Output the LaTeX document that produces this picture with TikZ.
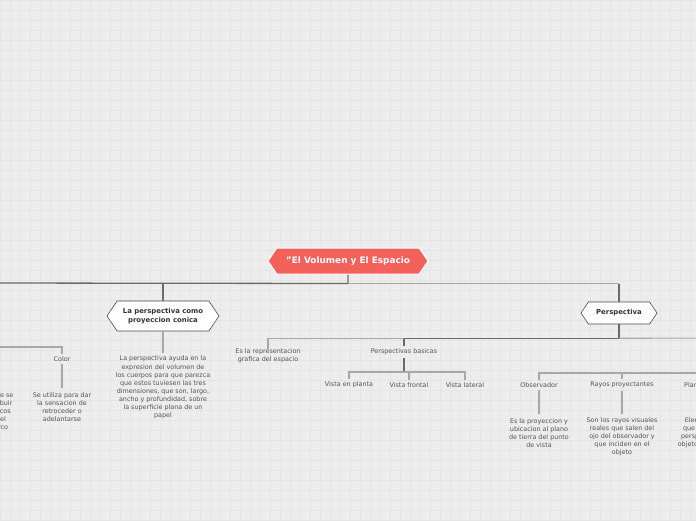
\documentclass[tikz,border=0pt]{standalone}
\usepackage{fontspec}
\setmainfont{DejaVu Sans}
\usetikzlibrary{shapes.symbols, positioning, calc}
\definecolor{fundo}{HTML}{EDEDED}
\definecolor{grade}{HTML}{E5E5E5}
\definecolor{raiz}{HTML}{F2615A}
\definecolor{linhaesc}{HTML}{6A6A6A}
\definecolor{linhaclr}{HTML}{A8A8A8}
\definecolor{texto}{HTML}{555555}

\begin{document}
\begin{tikzpicture}[
    x=1pt, y=-1pt,
    every node/.style={font=\fontsize{6.4}{8.1}\selectfont, text=texto},
    topico/.style={
        signal,
        signal to=west and east,
        signal pointer angle=112,
        draw=black!70,
        fill=white,
        line width=0.6pt,
        align=center,
        text=black!80,
        font=\fontsize{6.9}{8.4}\selectfont\bfseries
    },
    rotulo/.style={
        inner sep=2.5pt,
        align=center
    },
    descricao/.style={
        inner sep=0pt,
        align=center
    },
    escura/.style={
        draw=linhaesc,
        line width=1.3pt
    },
    clara/.style={
        draw=linhaclr,
        line width=1.1pt
    }
]

% ============================================================
% FUNDO
% ============================================================

\useasboundingbox (0,0) rectangle (696,520);
\clip (0,0) rectangle (696,520);
\fill[fundo] (0,0) rectangle (696,520);
\draw[grade, line width=0.4pt, step=10pt] (-2,-2) grid (700,522);

% ============================================================
% TÓPICO CENTRAL
% ============================================================

\node[
    topico,
    draw=white,
    fill=raiz,
    line width=1pt,
    text=white,
    font=\fontsize{8.9}{10}\selectfont\bfseries,
    minimum width=160pt,
    minimum height=26pt
] (raiz) at (348,261)
{"El Volumen y El Espacio};

% ============================================================
% SUBTÓPICOS
% ============================================================

\node[
    topico,
    minimum width=112pt,
    minimum height=30pt
] (conica) at (163,316)
{La perspectiva como\\proyeccion conica};

\node[
    topico,
    minimum width=76pt,
    minimum height=22pt
] (persp) at (619,313)
{Perspectiva};

% ============================================================
% RAMO ESQUERDO
% ============================================================

\node[rotulo] (cor) at (62,359) {Color};

\node[descricao] (cordesc) at (62,407)
{Se utiliza para dar\\la sensacion de\\retroceder o\\adelantarse};

\node[descricao] (esqdesc) at (-2,411)
{Lo que se\\distribuir\\graficos\\en el\\marco};

\node[descricao] (conicadesc) at (163,387.5)
{La perspectiva ayuda en la\\
expresion del volumen de\\
los cuerpos para que parezca\\
que estos tuviesen las tres\\
dimensiones, que son, largo,\\
ancho y profundidad, sobre\\
la superficie plana de un\\
papel};

% ============================================================
% RAMO DIREITO
% ============================================================

\node[descricao] (repr) at (268,356)
{Es la representacion\\grafica del espacio};

\node[rotulo] (basicas) at (404,352) {Perspectivas basicas};

\node[rotulo] (planta) at (349,385) {Vista en planta};
\node[rotulo] (frontal) at (409,385) {Vista frontal};
\node[rotulo] (lateral) at (465,385) {Vista lateral};

\node[rotulo] (observ) at (539,385) {Observador};
\node[rotulo] (rayos) at (622,385) {Rayos proyectantes};
\node[rotulo, anchor=west, inner xsep=0pt] (plano) at (684,385) {Plano de tierra};

\node[descricao] (observdesc) at (539,433)
{Es la proyeccion y\\ubicacion al plano\\de tierra del punto\\de vista};

\node[descricao] (rayosdesc) at (622,437)
{Son los rayos visuales\\reales que salen del\\ojo del observador y\\que inciden en el\\objeto};

\node[descricao] (planodesc) at (710,433)
{Elemento plano\\que sirve para la\\perspectiva de un\\objeto en el espacio};

% ============================================================
% CONEXÕES
% ============================================================

\coordinate (busraiz) at ([yshift=-9pt]raiz.south);
\coordinate (foraesq) at (-10,283);
\coordinate (foracor) at (-10,347);
\coordinate (busper) at ([yshift=-14pt]persp.south);
\coordinate (foradir) at (710,338);
\coordinate (busbas) at (404,372);
\coordinate (buselem) at (710,373);

% Tópico central
\draw[escura] (raiz.south) -- (busraiz) -- (foraesq);
\draw[escura] (busraiz) -| (conica.north);
\draw[clara] (busraiz) -- (persp.north |- busraiz);
\draw[escura] (persp.north |- busraiz) -- (persp.north);

% Ramo esquerdo
\draw[clara] (foracor) -| (cor.north);
\draw[clara, shorten >=4pt] (cor.south) -- (cordesc.north);
\draw[clara, shorten >=3pt] (conica.south) -- (conicadesc.north);

% Perspectiva
\draw[escura] (persp.south) -- (busper) -| (basicas.north);
\draw[clara] (basicas.north |- busper) -| (repr.north);
\draw[clara] (busper) -- (foradir);

% Perspectivas basicas
\draw[escura] (basicas.south) -- (busbas);
\draw[clara] (busbas) -| (planta.north);
\draw[clara] (busbas) -| (lateral.north);
\draw[clara] (frontal.north |- busbas) -- (frontal.north);

% Elementos
\draw[clara] (buselem) -| (observ.north);
\draw[clara] (rayos.north |- buselem) -- (rayos.north);
\draw[clara, shorten >=4pt] (observ.south) -- (observdesc.north);
\draw[clara, shorten >=4pt] (rayos.south) -- (rayosdesc.north);

\end{tikzpicture}
\end{document}
